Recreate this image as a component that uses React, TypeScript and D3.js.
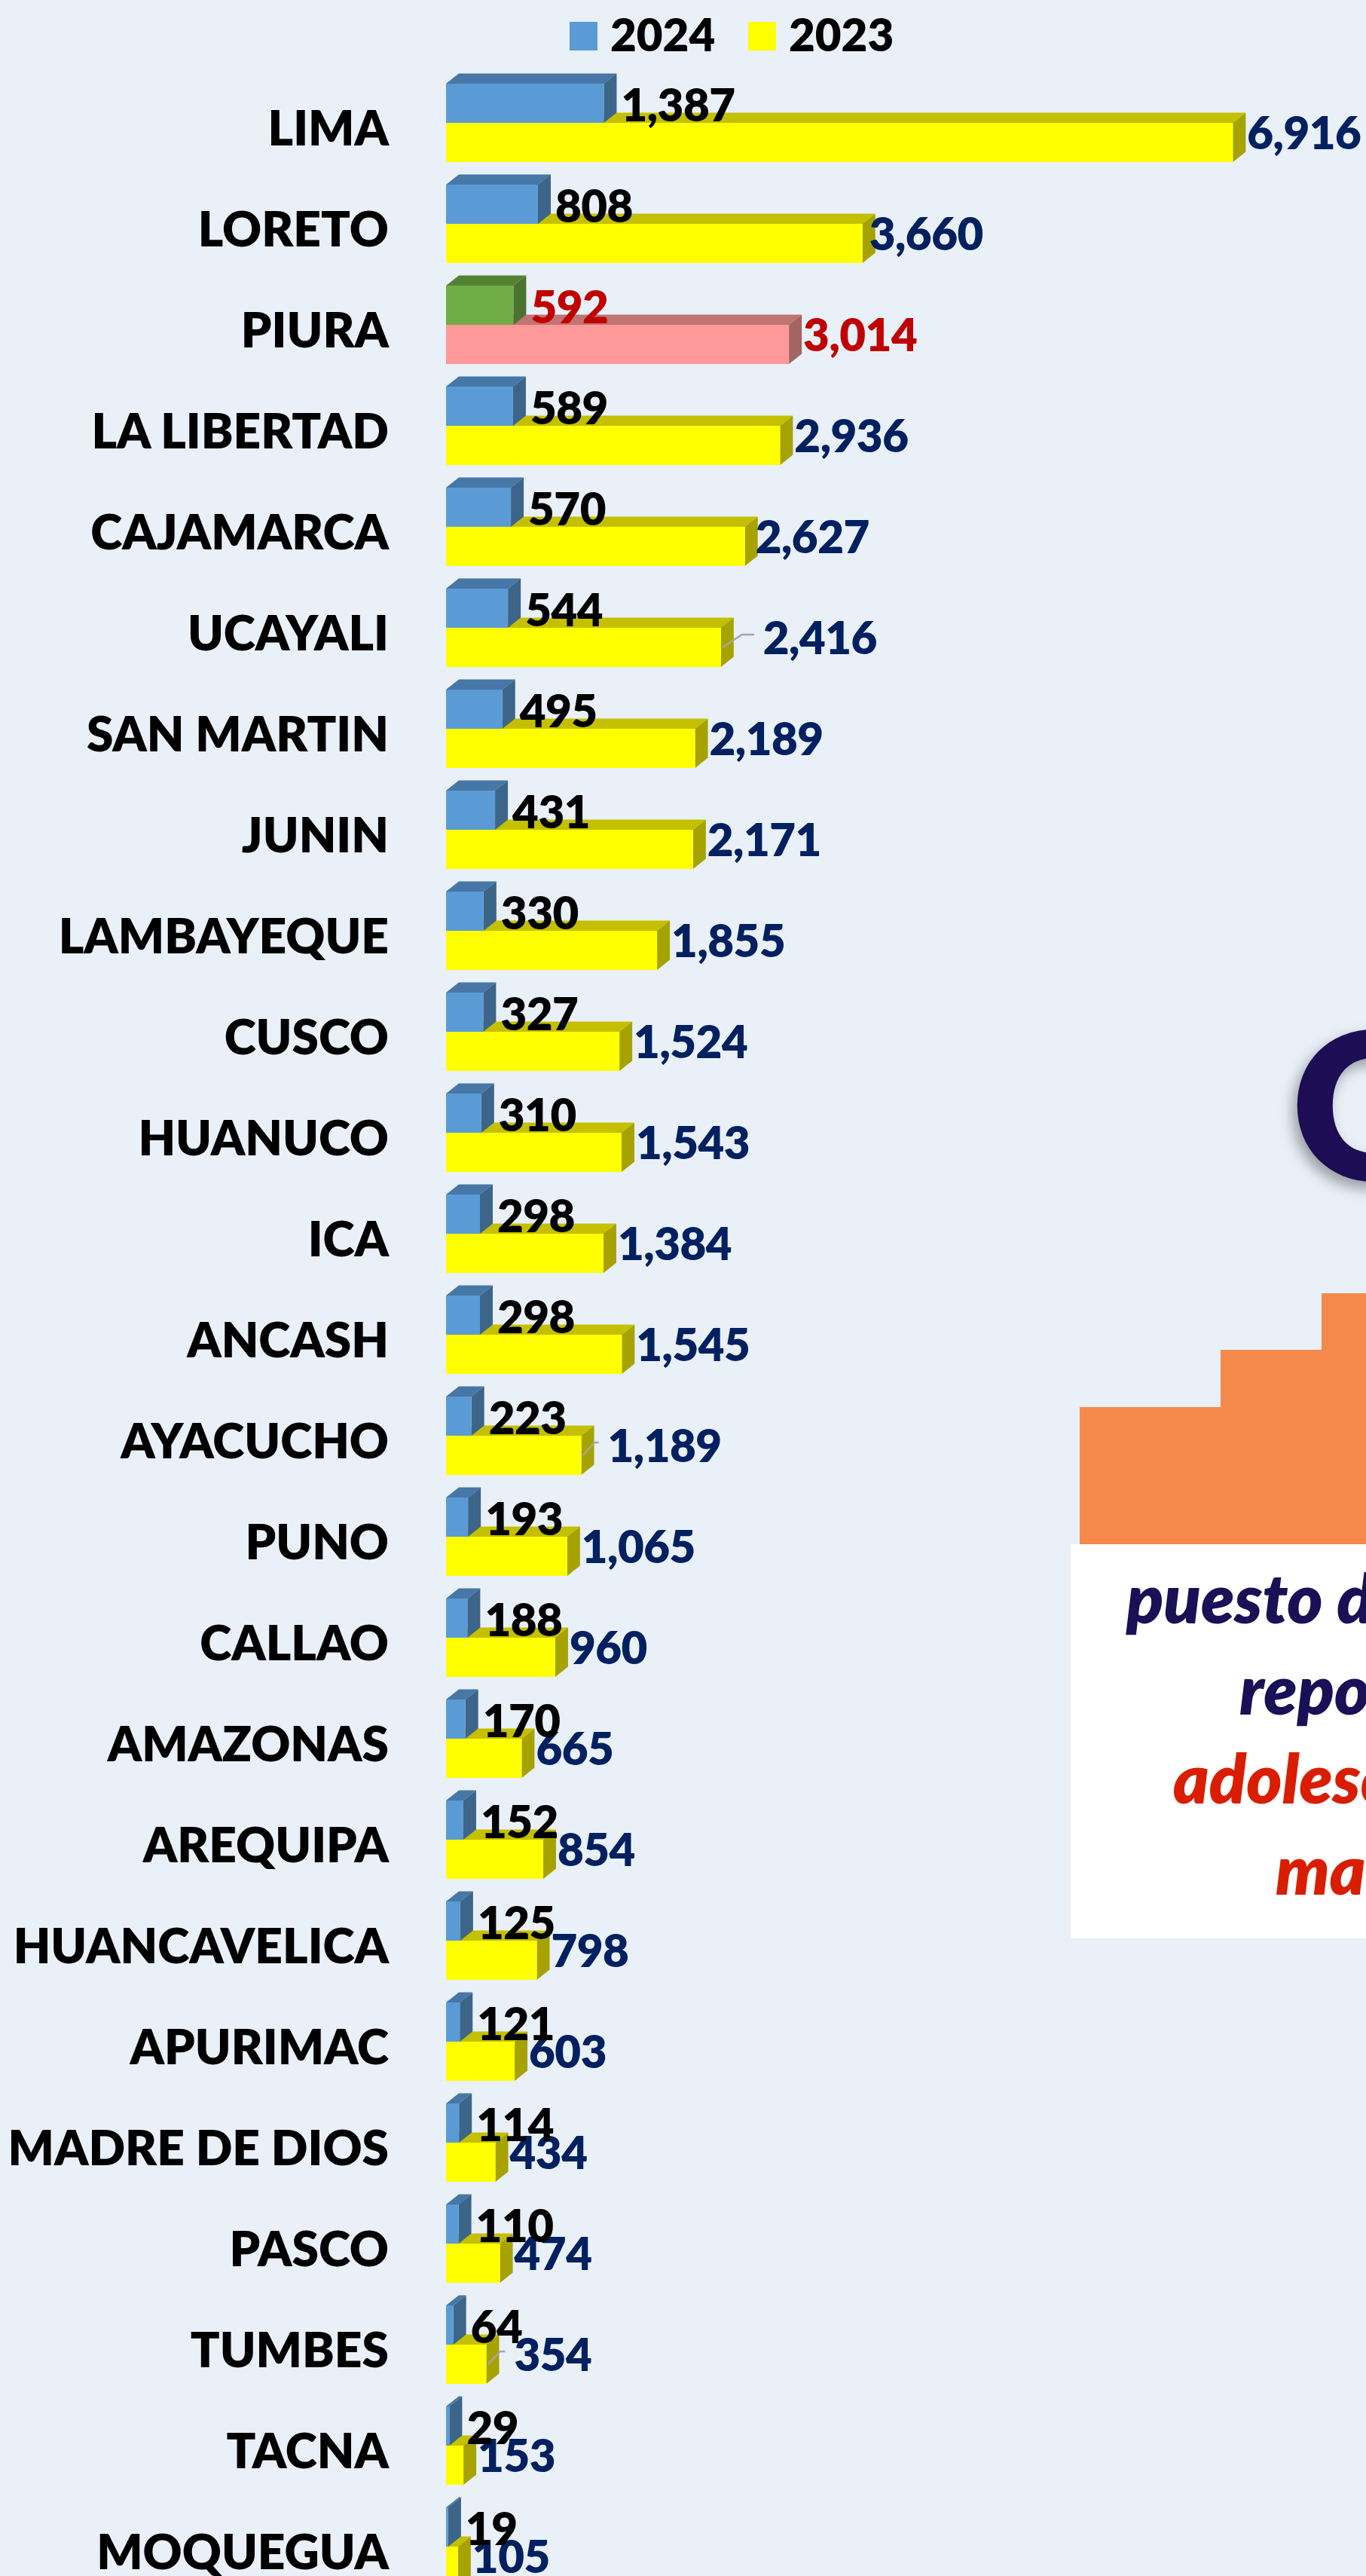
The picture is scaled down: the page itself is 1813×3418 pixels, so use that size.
import React from "react";
import * as d3 from "d3";

// ---- data ----
const regions = [
  "LIMA", "LORETO", "PIURA", "LA LIBERTAD", "CAJAMARCA", "UCAYALI", "SAN MARTIN",
  "JUNIN", "LAMBAYEQUE", "CUSCO", "HUANUCO", "ICA", "ANCASH", "AYACUCHO", "PUNO",
  "CALLAO", "AMAZONAS", "AREQUIPA", "HUANCAVELICA", "APURIMAC", "MADRE DE DIOS",
  "PASCO", "TUMBES", "TACNA", "MOQUEGUA",
];
const cases2024 = [1387, 808, 592, 589, 570, 544, 495, 431, 330, 327, 310, 298, 298, 223, 193, 188, 170, 152, 125, 121, 114, 110, 64, 29, 19];
const cases2023 = [6916, 3660, 3014, 2936, 2627, 2416, 2189, 2171, 1855, 1524, 1543, 1384, 1545, 1189, 1065, 960, 665, 854, 798, 603, 434, 474, 354, 153, 105];
const seriesNames = ["2024", "2023"];
const highlightRegion = "PIURA";
const panelLines = ["puesto de las regiones", "reportan", "adolescentes", "madres"];
const bigLetter = "O";

// ---- styling (kept out of the data) ----
const W = 1813;
const H = 3418;
const BG = "#E9F0F8";
const FONT = "Lato, 'Open Sans', 'DejaVu Sans', sans-serif";
const DX = 17;
const DY = 13.5;
const palette: Record<string, { front: string; top: string; side: string }> = {
  "2024": { front: "#5B9BD5", top: "#4677A6", side: "#3C6589" },
  "2023": { front: "#FFFF00", top: "#C4C000", side: "#A6A300" },
  "2024hl": { front: "#70AD47", top: "#548235", side: "#4A7230" },
  "2023hl": { front: "#FF9999", top: "#C07474", side: "#A36464" },
};
// label offsets for 2023 values that were moved in the original (with leader line)
const label2023Offset: Record<string, number> = { LORETO: 9, CAJAMARCA: 14, UCAYALI: 56, AYACUCHO: 35, TUMBES: 37 };
const leaderRegions = new Set(["UCAYALI", "AYACUCHO", "TUMBES"]);

const fmt = d3.format(",");

function Bar3D({ x0, x1, y0, y1, c }: { x0: number; x1: number; y0: number; y1: number; c: { front: string; top: string; side: string } }) {
  const top = `${x0},${y0} ${x0 + DX},${y0 - DY} ${x1 + DX},${y0 - DY} ${x1},${y0}`;
  const side = `${x1},${y0} ${x1 + DX},${y0 - DY} ${x1 + DX},${y1 - DY} ${x1},${y1}`;
  return (
    <g>
      <polygon points={top} fill={c.top} />
      <polygon points={side} fill={c.side} />
      <rect x={x0} y={y0} width={Math.max(0, x1 - x0)} height={y1 - y0} fill={c.front} />
    </g>
  );
}

export default function App() {
  const x = d3.scaleLinear().domain([0, 7000]).range([592, 592 + 7000 * 0.151]);
  const y = d3.scaleBand<string>().domain(regions).range([81, 3461]).padding(0.2239);
  const sub = d3.scaleBand<string>().domain(seriesNames).range([0, y.bandwidth()]);
  const subH = sub.bandwidth();

  const rows = regions.map((r, i) => {
    const band = y(r) as number;
    const yb0 = band + (sub("2024") as number);
    const yy0 = band + (sub("2023") as number);
    return { r, i, band, yb0, yb1: yb0 + subH, yy0, yy1: yy0 + subH, v24: cases2024[i], v23: cases2023[i], hl: r === highlightRegion };
  });

  return (
    <svg width={W} height={H} style={{ position: "absolute", left: 0, top: 0, display: "block" }} fontFamily={FONT}>
      <defs>
        <filter id="shadow" x="-30%" y="-30%" width="160%" height="160%">
          <feDropShadow dx={-6} dy={9} stdDeviation={9} floodColor="#000" floodOpacity={0.35} />
        </filter>
      </defs>
      <rect x={0} y={0} width={W} height={H} fill={BG} />

      {/* legend */}
      <g fontWeight={800} fontSize={60} fill="#000">
        <rect x={756} y={29} width={37} height={38} fill={palette["2024"].front} />
        <text x={810} y={68}>{seriesNames[0]}</text>
        <rect x={993} y={29} width={37} height={38} fill={palette["2023"].front} />
        <text x={1047} y={68}>{seriesNames[1]}</text>
      </g>

      {/* category labels */}
      <g fontWeight={800} fontSize={64} fill="#000" textAnchor="end">
        {rows.map((d) => (
          <text key={d.r} x={516} y={d.band + y.bandwidth() / 2 + 30}>{d.r}</text>
        ))}
      </g>

      {/* bars: 2023 behind, 2024 in front */}
      {rows.map((d) => (
        <Bar3D key={"y" + d.r} x0={x(0)} x1={x(d.v23)} y0={d.yy0} y1={d.yy1} c={d.hl ? palette["2023hl"] : palette["2023"]} />
      ))}
      {rows.map((d) => (
        <Bar3D key={"b" + d.r} x0={x(0)} x1={x(d.v24)} y0={d.yb0} y1={d.yb1} c={d.hl ? palette["2024hl"] : palette["2024"]} />
      ))}

      {/* leader lines */}
      {rows.filter((d) => leaderRegions.has(d.r)).map((d) => {
        const xe = x(d.v23);
        const off = label2023Offset[d.r];
        const pts = [
          [xe + 2, d.yy1 - 26],
          [xe + Math.min(off * 0.5, 28), d.yy1 - 43],
          [xe + off - 12, d.yy1 - 43],
        ];
        return <polyline key={"l" + d.r} points={pts.map((p) => p.join(",")).join(" ")} fill="none" stroke="#A6A6A6" strokeWidth={2.5} />;
      })}

      {/* value labels */}
      <g fontWeight={800} fontSize={60} letterSpacing={-0.5}>
        {rows.map((d) => (
          <text key={"t23" + d.r} x={x(d.v23) + (label2023Offset[d.r] ?? 19)} y={d.yy1 - 17} fill={d.hl ? "#C00000" : "#002060"}>
            {fmt(d.v23)}
          </text>
        ))}
        {rows.map((d) => (
          <text key={"t24" + d.r} x={x(d.v24) + 23} y={d.yb1 - 2} fill={d.hl ? "#C00000" : "#000"}>
            {fmt(d.v24)}
          </text>
        ))}
      </g>

      {/* right-hand panel (cut off at the image edge) */}
      <text x={1714} y={1566} fontSize={272} fontWeight={800} fill="#1A1055" filter="url(#shadow)">{bigLetter}</text>
      <path d="M1433,2049 V1867 H1620 V1791 H1754 V1716 H1813 V2049 Z" fill="#F4894B" />
      <rect x={1421} y={2049} width={W - 1421} height={523} fill="#FFFFFF" />
      <g fontWeight={800} fontStyle="italic" fontSize={90}>
        <text x={1495} y={2154} fill="#1A1055">{panelLines[0]}</text>
        <text x={1645} y={2275} fill="#1A1055">{panelLines[1]}</text>
        <text x={1557} y={2393} fill="#D91E00">{panelLines[2]}</text>
        <text x={1693} y={2514} fill="#D91E00">{panelLines[3]}</text>
      </g>
    </svg>
  );
}
